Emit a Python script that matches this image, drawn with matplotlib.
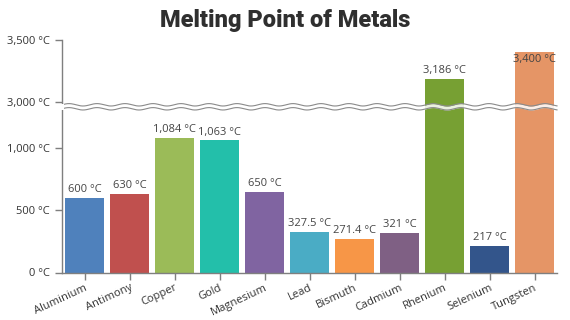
import numpy as np
import matplotlib
matplotlib.use("Agg")
import matplotlib.pyplot as plt
from matplotlib.scale import FuncScale

metals = ["Aluminium", "Antimony", "Copper", "Gold", "Magnesium", "Lead",
          "Bismuth", "Cadmium", "Rhenium", "Selenium", "Tungsten"]
melting = [600, 630, 1084, 1063, 650, 327.5, 271.4, 321, 3186, 217, 3400]
colors = ["#4F81BC", "#C0504E", "#9BBB58", "#23BFAA", "#8064A1", "#4AACC5",
          "#F79647", "#7F6084", "#77A033", "#33558B", "#E59566"]
yticks = [0, 500, 1000, 3000, 3500]

B0, B1, G = 1300.0, 3000.0, 71.0


def fwd(v):
    v = np.asarray(v, float)
    return np.where(v <= B0, v,
                    np.where(v >= B1, v - B1 + B0 + G,
                             B0 + (v - B0) * G / (B1 - B0)))


def inv(t):
    t = np.asarray(t, float)
    return np.where(t <= B0, t,
                    np.where(t >= B0 + G, t - B0 - G + B1,
                             B0 + (t - B0) * (B1 - B0) / G))


def fmt(v):
    if float(v).is_integer():
        return f"{int(v):,} °C"
    return f"{v:,} °C"


plt.rcParams['font.family'] = ['Open Sans', 'DejaVu Sans']

fig = plt.figure(figsize=(5.7, 3.2), dpi=100)
ax = fig.add_axes([62 / 570, 1 - 272.5 / 320, 495 / 570, 232.5 / 320])
ax.set_yscale(FuncScale(ax, (fwd, inv)))

x = np.arange(len(metals))
ax.bar(x, melting, width=0.88, color=colors, zorder=2)
ax.set_xlim(-0.5, len(metals) - 0.5)
ax.set_ylim(0, 3500)

ax.set_yticks(yticks)
ax.set_yticklabels([fmt(v) for v in yticks])
ax.set_xticks(x)
ax.set_xticklabels(metals, rotation=25, ha='right', rotation_mode='anchor')

for s in ['top', 'right']:
    ax.spines[s].set_visible(False)
for s in ['left', 'bottom']:
    ax.spines[s].set_color('#7f7f7f')
    ax.spines[s].set_linewidth(1)
ax.tick_params(axis='both', colors='#7f7f7f', length=5, width=1,
               labelsize=8, labelcolor='#333333')
ax.tick_params(axis='y', pad=4)
ax.tick_params(axis='x', pad=2)

top_t = float(fwd(3500))
for xi, v in zip(x, melting):
    if top_t - float(fwd(v)) < 110:
        ax.annotate(fmt(v), (xi, v), xytext=(0, -1), textcoords='offset points',
                    ha='center', va='top', fontsize=8, color='#444444', zorder=4)
    else:
        ax.annotate(fmt(v), (xi, v), xytext=(0, 2), textcoords='offset points',
                    ha='center', va='bottom', fontsize=8, color='#444444', zorder=4)

# scale-break band
xs = np.linspace(0, 1, 800)
period = 28 / 495
amp = 1.2 / 232.5
yc = (272.5 - 106.8) / 232.5
half = 2.0 / 232.5
wave = amp * np.sin(2 * np.pi * xs / period)
ax.fill_between(xs, yc - half + wave, yc + half + wave, transform=ax.transAxes,
                color='white', alpha=0.85, zorder=3, clip_on=False, linewidth=0)
ax.plot(xs, yc + half + wave, transform=ax.transAxes, color='#8a8a8a', lw=0.8,
        zorder=3, clip_on=False)
ax.plot(xs, yc - half + wave, transform=ax.transAxes, color='#8a8a8a', lw=0.8,
        zorder=3, clip_on=False)
ax.fill_between([-0.004, 0.004], yc - half - amp, yc + half + amp, transform=ax.transAxes,
                color='white', zorder=3, clip_on=False, linewidth=0)

fig.text(285 / 570, 1 - 20 / 320, "Melting Point of Metals", ha='center', va='center',
         fontsize=17, fontweight='heavy', color='#2f2f2f',
         family=['Roboto', 'DejaVu Sans'], fontstretch='condensed')

fig.savefig("out.png", dpi=100)
